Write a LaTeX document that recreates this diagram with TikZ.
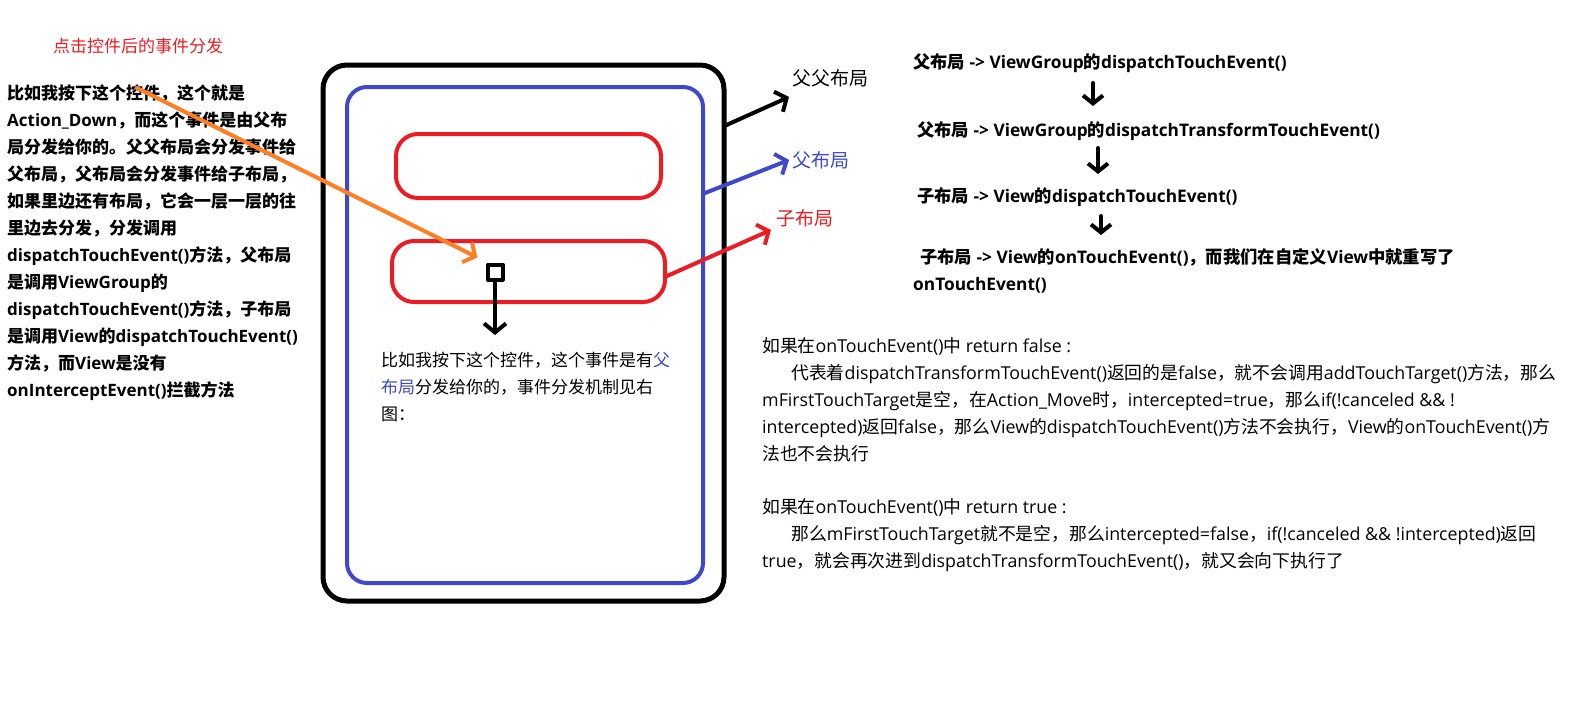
\documentclass[tikz,border=0pt]{standalone}
\usepackage{fontspec}
\setmainfont{Open Sans}
\newfontfamily\cjkfont{Noto Sans CJK SC}
\usetikzlibrary{arrows.meta, positioning}

% CJK characters switch to the CJK family, everything else stays in Open Sans
\XeTeXinterchartokenstate=1
\newXeTeXintercharclass\cjkclass
\count255="3000
\loop \XeTeXcharclass\count255=\cjkclass \ifnum\count255<"303F \advance\count255 by 1 \repeat
\count255="4E00
\loop \XeTeXcharclass\count255=\cjkclass \ifnum\count255<"9FFF \advance\count255 by 1 \repeat
\count255="FF00
\loop \XeTeXcharclass\count255=\cjkclass \ifnum\count255<"FFEF \advance\count255 by 1 \repeat
\XeTeXinterchartoks 0 \cjkclass = {\cjkfont}
\XeTeXinterchartoks 4095 \cjkclass = {\cjkfont}
\XeTeXinterchartoks \cjkclass 0 = {\rmfamily}
\XeTeXinterchartoks \cjkclass 4095 = {\rmfamily}

\definecolor{paintred}{RGB}{237,28,36}
\definecolor{paintblue}{RGB}{63,72,204}
\definecolor{paintorange}{RGB}{255,127,39}

\begin{document}
\begin{tikzpicture}[x=1pt, y=-1pt, line cap=round, line join=round,
    %Style
    box/.style={draw, rounded corners=#1, inner sep=0pt},
    box/.default=22pt,
    barb/.style={line width=4pt, -{Straight Barb[length=9pt,width=22pt]}},
    side text/.style={font=\fontsize{17}{27}\selectfont\bfseries, align=left, inner sep=0pt, anchor=north west},
    hint text/.style={font=\fontsize{17}{27}\selectfont, align=left, inner sep=0pt, anchor=north west},
    layer text/.style={font=\fontsize{19}{22}\selectfont, inner sep=0pt, anchor=west},
    flow text/.style={font=\fontsize{17.3}{27}\selectfont\bfseries, align=left, inner sep=0pt, anchor=west},
    note text/.style={font=\fontsize{17.8}{27}\selectfont, align=left, inner sep=0pt, anchor=north west}]
    %Colors
    \colorlet{rootcolor}{black}
    \colorlet{parentcolor}{paintblue}
    \colorlet{childcolor}{paintred}
    \colorlet{presscolor}{paintorange}
    \useasboundingbox (0,0) rectangle (1594,721);
    \fill[white] (0,0) rectangle (1594,721);

    %Left explanation
    \node[anchor=west, inner sep=0pt, text=paintred, font=\fontsize{17}{20}\selectfont] (title) at (53,46) {点击控件后的事件分发};
    \node[side text] (story) at (7,85) {比如我按下这个控件，这个就是\\
      Action\_Down，而这个事件是由父布\\
      局分发给你的。父父布局会分发事件给\\
      父布局，父布局会分发事件给子布局，\\
      如果里边还有布局，它会一层一层的往\\
      里边去分发，分发调用\\
      dispatchTouchEvent()方法，父布局\\
      是调用ViewGroup的\\
      dispatchTouchEvent()方法，子布局\\
      是调用View的dispatchTouchEvent()\\
      方法，而View是没有\\
      onInterceptEvent()拦截方法};

    %The phone
    \node[box=24pt, rootcolor, line width=5pt, minimum width=401pt, minimum height=536pt] (phone) at (523.5,333) {};
    \node[box=20pt, parentcolor, line width=4pt, minimum width=356pt, minimum height=496pt] (layout) at (525,335) {};
    \node[box, childcolor, line width=4pt, minimum width=265pt, minimum height=64pt] (itemA) at (528.5,166) {};
    \node[box, childcolor, line width=4pt, minimum width=273pt, minimum height=61pt] (itemB) at (528.5,271.5) {};
    \node[draw, line width=4pt, minimum size=15pt, inner sep=0pt] (tap) at (495,272) {};

    \node[hint text] (hint) at (381,352) {比如我按下这个控件，这个事件是有\textcolor{parentcolor}{父}\\
      \textcolor{parentcolor}{布局}分发给你的，事件分发机制见右\\
      图：};

    %Layers
    \node[layer text, text=rootcolor] (rootLabel) at (792,78) {父父布局};
    \node[layer text, text=parentcolor] (parentLabel) at (792,160) {父布局};
    \node[layer text, text=childcolor] (childLabel) at (776,218) {子布局};

    \draw[barb, rootcolor] (phone.east |- 0,125) -- ([shift={(-3,10)}]rootLabel.south west);
    \draw[barb, parentcolor] (layout.east |- 0,193) -- ([xshift=-3pt]parentLabel.west);
    \draw[barb, childcolor] (itemB.east |- 0,276) -- ([shift={(-5,3)}]childLabel.south west);

    \coordinate (press) at (137,88);
    \draw[barb, presscolor] (press) -- ([shift={(-8,-5)}]tap.north west);
    \coordinate (tapDown) at (495,335);
    \draw[barb] (tap.south) -- (tapDown);

    %Flow
    \node[flow text] (flow1) at (913,63) {父布局 -> ViewGroup的dispatchTouchEvent()};
    \node[flow text] (flow2) at (917,131) {父布局 -> ViewGroup的dispatchTransformTouchEvent()};
    \node[flow text] (flow3) at (917,197) {子布局 -> View的dispatchTouchEvent()};
    \node[flow text, anchor=north west] (flow4) at (913,248) {\hspace*{7pt}子布局 -> View的onTouchEvent()，而我们在自定义View中就重写了\\
      onTouchEvent()};
    \foreach \i/\x/\ya/\yb in {1/1093/83/106, 2/1098/148/174, 3/1101/216/235}
      {
      \coordinate (down\i a) at (\x,\ya);
      \coordinate (down\i b) at (\x,\yb);
      \draw[barb, -{Straight Barb[length=8pt,width=20pt]}] (down\i a) -- (down\i b);
      }

    %Notes
    \node[note text] (falseNote) at (762,337) {如果在onTouchEvent()中 return false :\\
      \hspace*{29pt}代表着dispatchTransformTouchEvent()返回的是false，就不会调用addTouchTarget()方法，那么\\
      mFirstTouchTarget是空，在Action\_Move时，intercepted=true，那么if(!canceled \&\& !\\
      intercepted)返回false，那么View的dispatchTouchEvent()方法不会执行，View的onTouchEvent()方\\
      法也不会执行};
    \node[note text] (trueNote) at (762,498) {如果在onTouchEvent()中 return true :\\
      \hspace*{29pt}那么mFirstTouchTarget就不是空，那么intercepted=false，if(!canceled \&\& !intercepted)返回\\
      true，就会再次进到dispatchTransformTouchEvent()，就又会向下执行了};
\end{tikzpicture}
\end{document}
